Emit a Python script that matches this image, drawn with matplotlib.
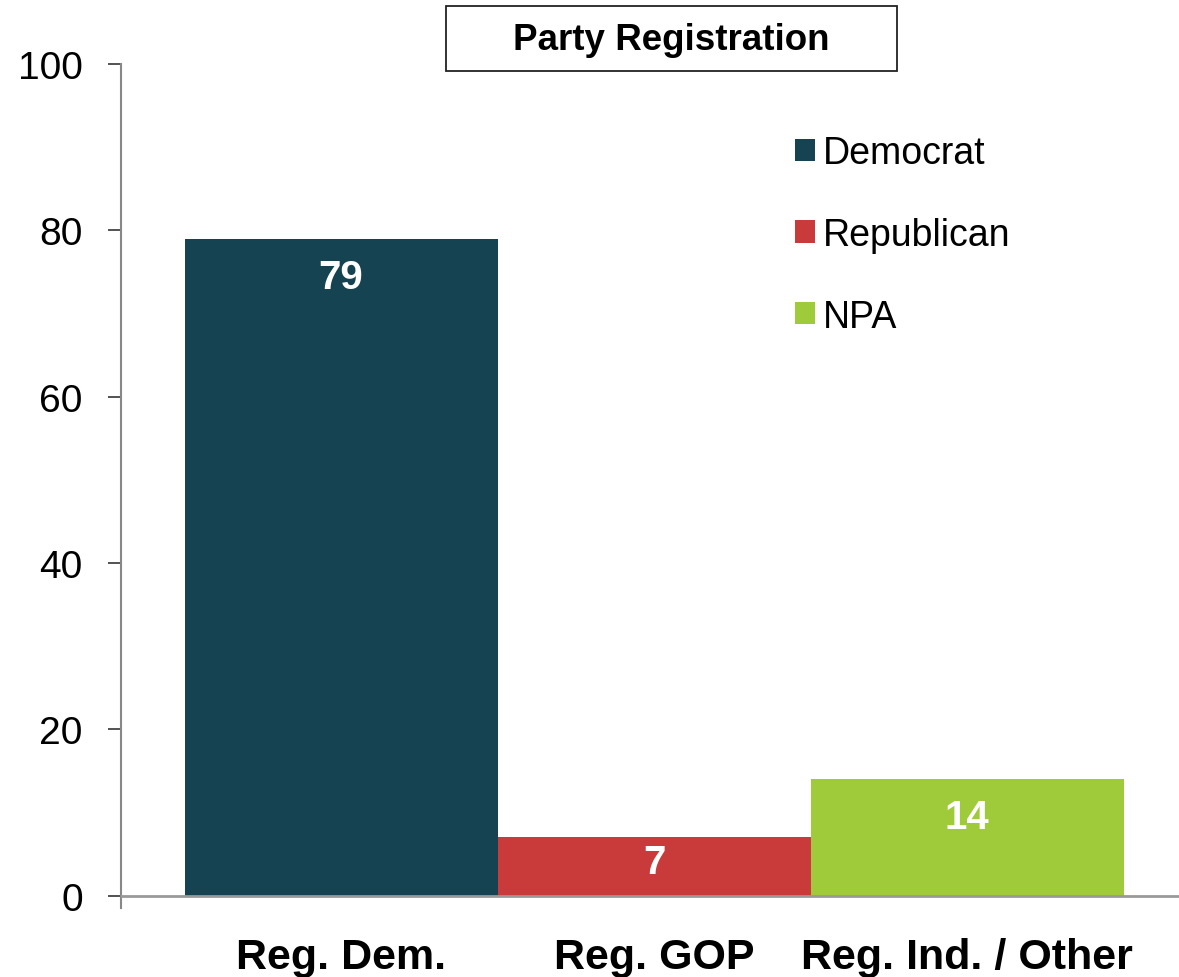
import matplotlib
matplotlib.use("Agg")
import matplotlib.pyplot as plt
from matplotlib.patches import Patch, Rectangle

categories = ["Reg. Dem.", "Reg. GOP", "Reg. Ind. / Other"]
values = [79, 7, 14]
series = ["Democrat", "Republican", "NPA"]
colors = ["#154351", "#C93B3B", "#9FCB3B"]
yticks = [0, 20, 40, 60, 80, 100]
title = "Party Registration"

plt.rcParams['font.family'] = ['Liberation Sans', 'DejaVu Sans']

W, H = 1179, 978
fig = plt.figure(figsize=(W / 100, H / 100), dpi=100)
ax = fig.add_axes([121 / W, 1 - 909 / H, (1179 - 121) / W, (909 - 65) / H])

x = list(range(len(categories)))
bars = ax.bar(x, values, width=1.0, color=colors, zorder=2)

ax.set_xlim(-0.703, 2.677)
ax.set_ylim(-1.5, 100)
ax.axhline(0, color="#999999", lw=2, zorder=3)

for s in ["top", "right", "bottom"]:
    ax.spines[s].set_visible(False)
ax.spines["left"].set_color("#888888")
ax.spines["left"].set_linewidth(1.5)

ax.set_yticks(yticks)
ax.set_yticklabels([str(t) for t in yticks], fontsize=28)
ax.tick_params(axis="y", length=9.5, width=1.3, color="#444444", pad=18)
ax.set_xticks(x)
ax.set_xticklabels(categories, fontsize=31, fontweight="bold")
ax.tick_params(axis="x", length=0, pad=21)

for xi, v in zip(x, values):
    y = v - 4.6 if v > 10 else v * 0.58
    ax.text(xi, y, str(v), ha="center", va="center", color="white",
            fontsize=29, fontweight="bold", zorder=4)

handles = [Patch(facecolor=c, label=s) for c, s in zip(colors, series)]
leg = fig.legend(handles=handles, loc="upper left", bbox_to_anchor=(780 / W, 1 - 121 / H),
                 frameon=False, fontsize=27, handlelength=0.53, handleheight=0.53,
                 handletextpad=0.22, labelspacing=1.22, borderaxespad=0)

fig.patches.append(Rectangle((446 / W, 1 - 72 / H), (897 - 446) / W, (72 - 7) / H,
                             transform=fig.transFigure, facecolor="white",
                             edgecolor="#222222", lw=1.3))
fig.text(671.5 / W, 1 - 41 / H, title, ha="center", va="center", fontsize=26.5,
         fontweight="bold")

fig.savefig("out.png", dpi=100)
